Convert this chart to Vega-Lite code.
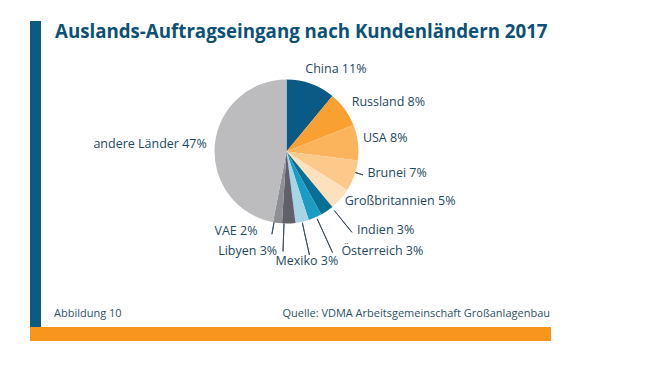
{
  "$schema": "https://vega.github.io/schema/vega-lite/v6.json",
  "width": 650,
  "height": 367,
  "autosize": {"type": "none"},
  "padding": 0,
  "background": "white",
  "config": {"view": {"stroke": null}, "font": "Open Sans"},
  "datasets": {
    "orders": [
      {"idx": 1, "country": "China", "label": "China 11%", "share": 11},
      {"idx": 2, "country": "Russland", "label": "Russland 8%", "share": 8},
      {"idx": 3, "country": "USA", "label": "USA 8%", "share": 8},
      {"idx": 4, "country": "Brunei", "label": "Brunei 7%", "share": 7},
      {"idx": 5, "country": "Großbritannien", "label": "Großbritannien 5%", "share": 5},
      {"idx": 6, "country": "Indien", "label": "Indien 3%", "share": 3},
      {"idx": 7, "country": "Österreich", "label": "Österreich 3%", "share": 3},
      {"idx": 8, "country": "Mexiko", "label": "Mexiko 3%", "share": 3},
      {"idx": 9, "country": "Libyen", "label": "Libyen 3%", "share": 3},
      {"idx": 10, "country": "VAE", "label": "VAE 2%", "share": 2},
      {"idx": 11, "country": "andere Länder", "label": "andere Länder 47%", "share": 47}
    ]
  },
  "data": {"name": "orders"},
  "layer": [
    {
      "data": {"values": [{}]},
      "mark": {"type": "rect", "color": "#0d5a82"},
      "encoding": {
        "x": {"datum": 30, "type": "quantitative", "scale": {"domain": [0, 650], "nice": false, "zero": false}, "axis": null},
        "x2": {"datum": 41},
        "y": {"datum": 21, "type": "quantitative", "scale": {"domain": [0, 367], "reverse": true, "nice": false, "zero": false}, "axis": null},
        "y2": {"datum": 327}
      }
    },
    {
      "data": {"values": [{}]},
      "mark": {"type": "rect", "color": "#f7951d"},
      "encoding": {
        "x": {"datum": 30, "type": "quantitative"},
        "x2": {"datum": 551},
        "y": {"datum": 327, "type": "quantitative"},
        "y2": {"datum": 341}
      }
    },
    {
      "data": {"values": [{"t": "Auslands-Auftragseingang nach Kundenländern 2017"}]},
      "mark": {"type": "text", "align": "left", "baseline": "alphabetic", "fontSize": 18.7, "fontWeight": "bold", "color": "#0b5177"},
      "encoding": {
        "x": {"datum": 55, "type": "quantitative"},
        "y": {"datum": 37.5, "type": "quantitative"},
        "text": {"field": "t"}
      }
    },
    {
      "data": {"values": [{"t": "Abbildung 10"}]},
      "mark": {"type": "text", "align": "left", "baseline": "alphabetic", "fontSize": 11, "color": "#2f5264"},
      "encoding": {
        "x": {"datum": 54, "type": "quantitative"},
        "y": {"datum": 317, "type": "quantitative"},
        "text": {"field": "t"}
      }
    },
    {
      "data": {"values": [{"t": "Quelle: VDMA Arbeitsgemeinschaft Großanlagenbau"}]},
      "mark": {"type": "text", "align": "right", "baseline": "alphabetic", "fontSize": 11, "color": "#2f5264"},
      "encoding": {
        "x": {"datum": 550, "type": "quantitative"},
        "y": {"datum": 317, "type": "quantitative"},
        "text": {"field": "t"}
      }
    },
    {
      "mark": {"type": "arc", "radius": 72},
      "encoding": {
        "x": {"datum": 286.5, "type": "quantitative"},
        "y": {"datum": 151.5, "type": "quantitative"},
        "theta": {"field": "share", "type": "quantitative", "stack": true},
        "order": {"field": "idx", "type": "quantitative"},
        "color": {
          "field": "country",
          "type": "nominal",
          "legend": null,
          "scale": {
            "domain": ["China", "Russland", "USA", "Brunei", "Großbritannien", "Indien", "Österreich", "Mexiko", "Libyen", "VAE", "andere Länder"],
            "range": ["#0b5a85", "#f9a033", "#fbb45c", "#fdc98b", "#fee0bc", "#0a6f95", "#1a9cc4", "#a8d4e8", "#5f6069", "#8e8f94", "#bcbcbf"]
          }
        }
      }
    },
    {
      "mark": {
        "type": "arc",
        "filled": false,
        "stroke": "#34495a",
        "strokeWidth": 0.9,
        "theta": {"expr": "[0,0,0,1.8675,0,2.4609,2.7140,2.9234,3.1765,3.3161,0][datum.idx-1]"},
        "theta2": {"expr": "[0,0,0,1.8675,0,2.4609,2.7140,2.9234,3.1765,3.3161,0][datum.idx-1]"},
        "radius": {"expr": "[0,0,0,80,0,104,111,106,100,84,0][datum.idx-1]"},
        "radius2": {"expr": "[0,0,0,72,0,76,74,73,72,72,0][datum.idx-1]"}
      },
      "encoding": {
        "x": {"datum": 286.5, "type": "quantitative"},
        "y": {"datum": 151.5, "type": "quantitative"}
      }
    },
    {
      "mark": {
        "type": "text",
        "fontSize": 12.5,
        "color": "#1d4a62",
        "baseline": "middle",
        "radius": {"expr": "[88,85,78,86,75,95,108,112,100,80,80][datum.idx-1]"},
        "align": {"expr": "['left','left','left','left','left','left','left','center','right','right','right'][datum.idx-1]"},
        "dx": {"expr": "[-11,-3.6,-1,0,2,17,12,-4,-12.5,-19,0][datum.idx-1]"},
        "dy": {"expr": "[0,0,-4,-7.7,0,0,0,0,0,0,0][datum.idx-1]"}
      },
      "encoding": {
        "x": {"datum": 286.5, "type": "quantitative"},
        "y": {"datum": 151.5, "type": "quantitative"},
        "theta": {"field": "share", "type": "quantitative", "stack": true},
        "order": {"field": "idx", "type": "quantitative"},
        "text": {"field": "label"}
      }
    }
  ]
}
